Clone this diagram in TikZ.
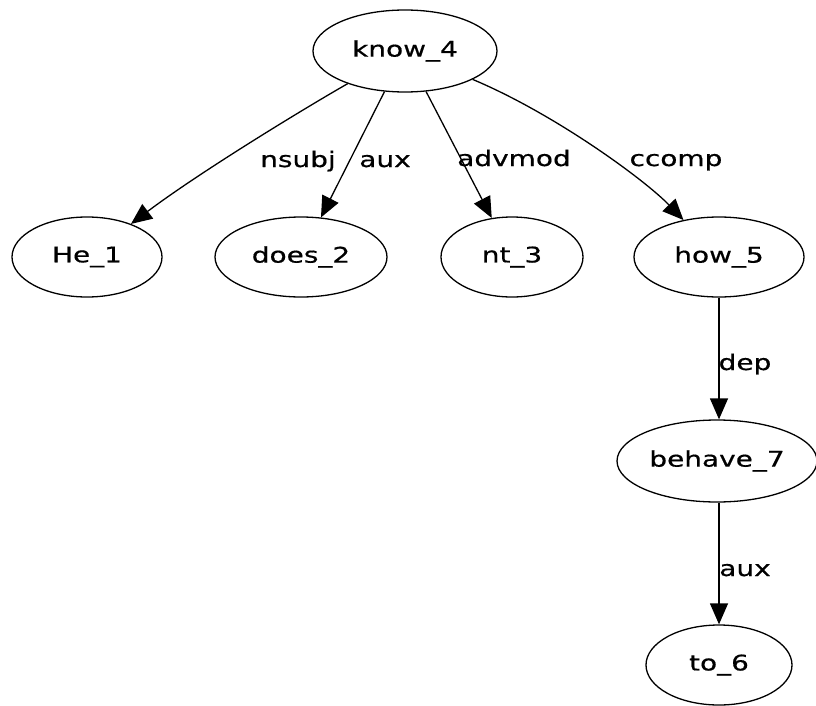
\documentclass[tikz,border=0pt]{standalone}
\usepackage{fontspec}
\setmainfont{DejaVu Sans}[FakeStretch=1.3, FakeBold=0.6]
\usetikzlibrary{shapes.geometric,arrows.meta}

\tikzset{
  word/.style={ellipse, draw, line width=1.3pt, inner sep=0pt,
    font=\fontsize{21.5}{24}\selectfont},
  edge/.style={line width=1.3pt, -{Triangle[length=21pt,width=18pt]}},
  rel/.style={anchor=base, inner sep=0pt, font=\fontsize{21.5}{24}\selectfont}
}

\begin{document}
\begin{tikzpicture}[x=1pt,y=-1pt]
  \useasboundingbox[fill=white] (0,0) rectangle (816,706);

  % words of the sentence
  \node[word, minimum width=184pt, minimum height=82pt] (know)   at (405,51)  {know\_4};
  \node[word, minimum width=150pt, minimum height=80pt] (he)     at (87,257)  {He\_1};
  \node[word, minimum width=172pt, minimum height=80pt] (does)   at (301,257) {does\_2};
  \node[word, minimum width=142pt, minimum height=80pt] (nt)     at (512,257) {nt\_3};
  \node[word, minimum width=170pt, minimum height=80pt] (how)    at (719,257) {how\_5};
  \node[word, minimum width=200pt, minimum height=82pt] (behave) at (717,461) {behave\_7};
  \node[word, minimum width=146pt, minimum height=80pt] (to)     at (719,665) {to\_6};

  % dependency arcs
  \draw[edge] (know) .. controls (305,108) and (200,172) .. (he);
  \draw[edge] (know) -- (does);
  \draw[edge] (know) -- (nt);
  \draw[edge] (know) .. controls (555,114) and (645,180) .. (how);
  \draw[edge] (how.south) -- (how.south |- behave.north);
  \draw[edge] (behave.south -| how.south) -- (how.south |- to.north);

  % relation labels
  \node[rel] (lnsubj)  at (298,167) {nsubj};
  \node[rel] (laux)    at (385,167) {aux};
  \node[rel] (ladv)    at (514,166) {advmod};
  \node[rel] (lccomp)  at (676,166) {ccomp};
  \node[rel] (ldep)    at (745,370) {dep};
  \node[rel] (laux2)   at (745,576) {aux};
\end{tikzpicture}
\end{document}
